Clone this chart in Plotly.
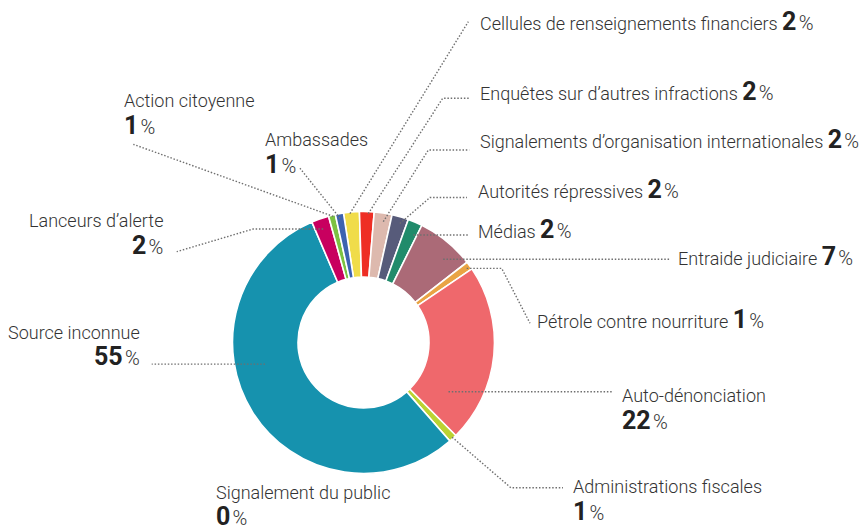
import math
import plotly.graph_objects as go

# ---------------- data ----------------
labels = [
    "Cellules de renseignements financiers",
    "Enquêtes sur d’autres infractions",
    "Signalements d’organisation internationales",
    "Autorités répressives",
    "Médias",
    "Entraide judiciaire",
    "Pétrole contre nourriture",
    "Auto-dénonciation",
    "Administrations fiscales",
    "Signalement du public",
    "Source inconnue",
    "Lanceurs d’alerte",
    "Action citoyenne",
    "Ambassades",
]
values = [1.95, 1.8, 2.2, 2.05, 1.8, 7.15, 1.0, 22.05, 1.0, 0.0, 55.0, 2.15, 0.85, 1.0]
pct_labels = [2, 2, 2, 2, 2, 7, 1, 22, 1, 0, 55, 2, 1, 1]
colors = [
    "#F0DC4A", "#EE2E24", "#DDB9AE", "#575B7A", "#218B6B", "#AB6A77",
    "#E9A444", "#EF686C", "#BBD232", "#9A9A9A", "#1692AE", "#C8005F",
    "#7CC242", "#3D62B0",
]

# ---------------- layout constants ----------------
W, H = 861, 526
CX, CY, R = 363.5, 342.5, 131.0
HOLE = 0.5
ROTATION = -8.8
FONT = "Roboto"
FS = 18          # name font size
NUM_FS = 25      # bold number size
PCT_FS = 20      # percent sign size
TXT = "#333333"
NUM_COL = "#222222"
LINE = "#6f6f6f"

# label placement: (x px, baseline of first line px, xanchor, two_lines)
label_pos = [
    (479, 30.0, "left", False),
    (479, 100.0, "left", False),
    (479, 148.3, "left", False),
    (477, 198.0, "left", False),
    (477, 238.3, "left", False),
    (677, 265.0, "left", False),
    (536, 328.3, "left", False),
    (621, 402.0, "left", True),
    (572, 492.7, "left", True),
    (215, 498.3, "left", True),
    (141, 338.3, "right", True),
    (164, 226.7, "right", True),
    (123, 106.7, "left", True),
    (264, 145.7, "left", True),
]
LINE_GAP = 27.0

# leader lines: anchor inside slice (t along slice, radius factor), then points
# a point ("h", x) keeps the previous y (horizontal run)
leaders = [
    ((0.40, 0.99), [(468.3, 21.7)]),
    ((0.60, 0.985), [(442.7, 98.3), ("h", 469.3)]),
    ((0.58, 0.935), [(428.3, 150.0), ("h", 469.3)]),
    ((0.59, 0.95), [(430.0, 197.5), ("h", 467.0)]),
    ((0.76, 0.905), [("h", 468.3)]),
    ((0.67, 0.88), [("h", 670.0)]),
    ((0.58, 0.97), [("h", 501.7), (530.0, 323.3)]),
    ((0.81, 0.75), [("h", 613.5)]),
    ((0.47, 0.99), [(510.8, 487.7), ("h", 563.0)]),
    None,
    ((0.60, 0.77), [("h", 151.7)]),
    ((0.47, 0.92), [("h", 253.3), (176.7, 251.7)]),
    ((0.64, 0.99), [(133.3, 144.3)]),
    ((0.47, 0.965), [(300.0, 168.3)]),
]

fig = go.Figure()
fig.add_trace(go.Pie(
    labels=labels,
    values=values,
    sort=False,
    direction="clockwise",
    rotation=ROTATION,
    hole=HOLE,
    textinfo="none",
    hoverinfo="label+percent",
    marker=dict(colors=colors, line=dict(color="white", width=1.6)),
    domain=dict(x=[(CX - R) / W, (CX + R) / W],
                y=[1 - (CY + R) / H, 1 - (CY - R) / H]),
    showlegend=False,
))

total = sum(values)
starts = []
acc = ROTATION
for v in values:
    starts.append((acc, v / total * 360.0))
    acc += v / total * 360.0


def px(x):
    return x / W


def py(y):
    return 1 - y / H


# vertical offsets from baseline to box middle (Roboto ascent .928, descent .244)
MID_NAME = (0.928 - 0.244) / 2 * FS
MID_NUM = (0.928 * NUM_FS - 0.244 * NUM_FS) / 2

annotations = []
shapes = []


def add_text(x, y_mid, xa, text):
    annotations.append(dict(
        x=px(x), y=py(y_mid), xref="paper", yref="paper",
        xanchor=xa, yanchor="middle", align=xa, showarrow=False,
        text=text, borderpad=0,
        font=dict(family=FONT, size=FS, color=TXT, weight=300),
    ))


GAP = "<span style='font-size:9px'> </span>"

for i, name in enumerate(labels):
    x, base, xa, two = label_pos[i]
    num = (f"<span style='font-size:{NUM_FS}px;font-weight:700;fill:{NUM_COL}'>"
           f"{pct_labels[i]}</span>{GAP}<span style='font-size:{PCT_FS}px'>%</span>")
    if two:
        add_text(x, base - MID_NAME, xa, name)
        add_text(x, base + LINE_GAP - MID_NUM, xa, num)
    else:
        add_text(x, base - MID_NUM, xa, f"{name} {num}")

    spec = leaders[i]
    if spec is None:
        continue
    (t, rf), pts = spec
    a0, w = starts[i]
    ang = math.radians(a0 + t * w)
    ax = CX + rf * R * math.sin(ang)
    ay = CY - rf * R * math.cos(ang)
    path_pts = [(ax, ay)]
    for p in pts:
        if p[0] == "h":
            path_pts.append((p[1], path_pts[-1][1]))
        else:
            path_pts.append(p)
    d = "M " + " L ".join(f"{px(a):.5f},{py(b):.5f}" for a, b in path_pts)
    shapes.append(dict(type="path", path=d, xref="paper", yref="paper",
                       line=dict(color=LINE, width=1.4, dash="1.5px,1.8px")))

fig.update_layout(
    width=W, height=H,
    margin=dict(l=0, r=0, t=0, b=0),
    paper_bgcolor="white", plot_bgcolor="white",
    annotations=annotations, shapes=shapes,
)

fig.write_html("out.html")
